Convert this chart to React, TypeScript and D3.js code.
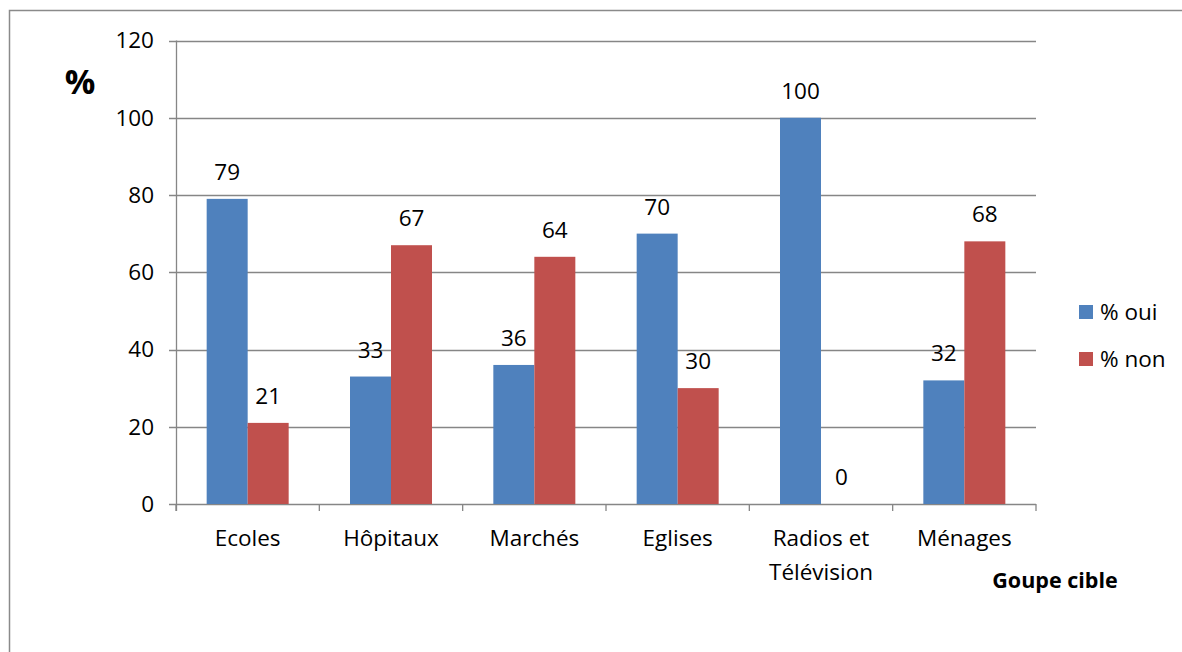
import React from "react";
import * as d3 from "d3";

const categories = ["Ecoles", "Hôpitaux", "Marchés", "Eglises", "Radios et\nTélévision", "Ménages"];
const ouiValues = [79, 33, 36, 70, 100, 32];
const nonValues = [21, 67, 64, 30, 0, 68];
const yTicks = [0, 20, 40, 60, 80, 100, 120];
const seriesNames = ["% oui", "% non"];
const colors = ["#4F81BD", "#C0504D"];

export default function App() {
  const W = 1182, H = 652;
  const left = 176, right = 1036, top = 40.5, bottom = 504;
  const font = "'Open Sans', 'Liberation Sans', sans-serif";
  const fs = 22.5;
  const x = d3.scaleBand<string>().domain(categories).range([left, right]).paddingInner(0).paddingOuter(0);
  const y = d3.scaleLinear().domain([0, 120]).range([bottom, top]);
  const groupW = 82;
  const bw = groupW / 2;
  const series = [ouiValues, nonValues];
  const grid = "#868686";
  return (
    <svg width={W} height={H} style={{ position: "absolute", left: 0, top: 0 }} fontFamily={font}>
      <rect x={0} y={0} width={W} height={H} fill="#fff" />
      <rect x={9.5} y={10.5} width={W + 20} height={H + 20} fill="none" stroke="#8a8a8a" strokeWidth={1.5} />
      {yTicks.map((t) => (
        <g key={t}>
          <line x1={left - 7} x2={right} y1={Math.round(y(t)) + 0.5} y2={Math.round(y(t)) + 0.5} stroke={grid} strokeWidth={1.3} />
          <text x={154} y={y(t)} dy="0.35em" textAnchor="end" fontSize={fs} fill="#000">{t}</text>
        </g>
      ))}
      <line x1={left + 0.5} x2={left + 0.5} y1={top} y2={bottom + 7} stroke={grid} strokeWidth={1.3} />
      {d3.range(categories.length + 1).map((i) => {
        const xx = left + i * x.step();
        return <line key={i} x1={xx} x2={xx} y1={bottom} y2={bottom + 7} stroke={grid} strokeWidth={1.3} />;
      })}
      {categories.map((c, i) => {
        const cx = (x(c) as number) + x.bandwidth() / 2;
        return (
          <g key={c}>
            {series.map((vals, s) => {
              const bx = cx - groupW / 2 + s * bw;
              const v = vals[i];
              return (
                <g key={s}>
                  {v > 0 && <rect x={bx} y={y(v)} width={bw} height={y(0) - y(v)} fill={colors[s]} />}
                  <text x={bx + bw / 2} y={y(v) - 19} textAnchor="middle" fontSize={fs} fill="#000">{v}</text>
                </g>
              );
            })}
            {c.split("\n").map((line, k) => (
              <text key={k} x={cx} y={538 + k * 34} dy="0.35em" textAnchor="middle" fontSize={fs} fill="#000">{line}</text>
            ))}
          </g>
        );
      })}
      <text x={80} y={82} dy="0.35em" textAnchor="middle" fontSize={34} fontWeight="bold" fill="#000">%</text>
      <text x={1055} y={580} dy="0.35em" textAnchor="middle" fontSize={21.5} fontWeight="bold" fill="#000">Goupe cible</text>
      {seriesNames.map((n, s) => (
        <g key={n}>
          <rect x={1079} y={305 + s * 47} width={14} height={14} fill={colors[s]} />
          <text x={1100} y={312 + s * 47} dy="0.35em" fontSize={fs} fill="#000">{n}</text>
        </g>
      ))}
    </svg>
  );
}
